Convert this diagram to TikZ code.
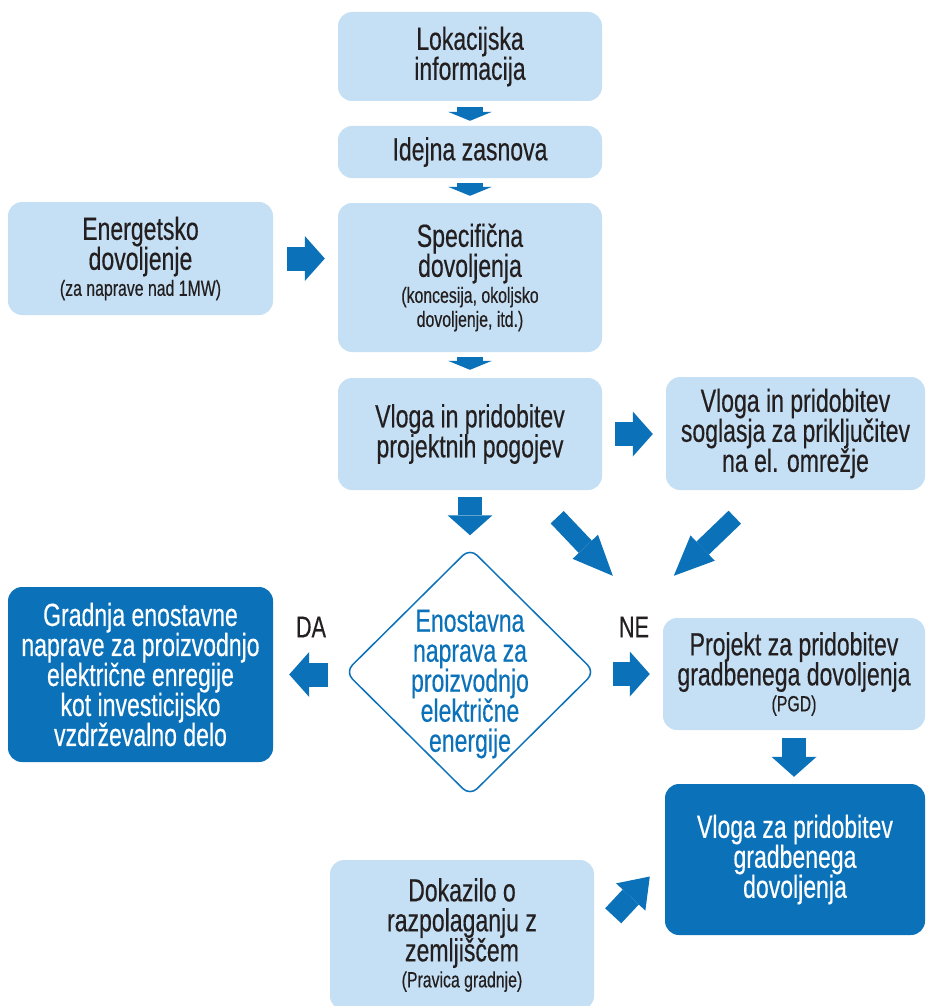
\documentclass[tikz,border=0pt]{standalone}
\usepackage{fontspec}
\setmainfont{Liberation Sans}[FakeStretch=0.72,FakeBold=0.4]
\usetikzlibrary{arrows.meta,shapes.geometric}
\definecolor{lblue}{HTML}{C5E0F4}
\definecolor{dblue}{HTML}{0B71B9}
\definecolor{tgray}{HTML}{231F20}
\newcommand{\sm}{\fontsize{22}{24}\selectfont}
\begin{document}
\begin{tikzpicture}[x=1pt,y=-1pt,
		box/.style={rectangle,rounded corners=14pt,fill=lblue,text=tgray,inner sep=0pt,minimum width=264pt,align=center,font=\fontsize{32}{30}\selectfont},
		darkbox/.style={box,fill=dblue,text=white},
		smallarr/.style={draw=dblue,line width=26pt,-{Triangle[width=44pt,length=9pt,line width=0pt]}},
		bigarr/.style={draw=dblue,line width=24pt,-{Triangle[width=45pt,length=20pt,line width=0pt]}},
		slantarr/.style={draw=dblue,line width=18pt,-{Triangle[width=35pt,length=40pt,line width=0pt]}},
		uparr/.style={draw=dblue,line width=22pt,-{Triangle[width=40pt,length=28pt,line width=0pt]}}]
		\useasboundingbox (0,0) rectangle (927,1006);
		\node[box,minimum height=89pt] (lok) at (470,56.5) {Lokacijska\\informacija};
		\node[box,minimum height=52pt] (ide) at (470,152) {Idejna zasnova};
		\node[box,minimum height=149pt] (spe) at (470,277.5) {Specifična\\dovoljenja\\[-4pt]{\sm (koncesija, okoljsko}\\[-6pt]{\sm dovoljenje, itd.)}};
		\node[box,minimum width=265pt,minimum height=113pt] (ene) at (140.5,258.5) {Energetsko\\dovoljenje\\[-4pt]{\sm (za naprave nad 1MW)}};
		\node[box,minimum height=112pt] (pp) at (470,434) {Vloga in pridobitev\\projektnih pogojev};
		\node[box,minimum width=259pt,minimum height=113pt] (sog) at (795.5,433.5) {Vloga in pridobitev\\soglasja za priključitev\\na el. omrežje};
		\node[diamond,draw=dblue,line width=1.5pt,rounded corners=10pt,inner sep=0pt,minimum width=250pt,minimum height=248pt] (dia) at (470,672) {};
		\node[align=center,text=dblue,font=\fontsize{32}{30}\selectfont] (diatxt) at ([yshift=-12pt]dia.center) {Enostavna\\naprava za\\proizvodnjo\\električne\\energije};
		\node[darkbox,minimum width=265pt,minimum height=175pt] (gra) at (140.5,674.5) {Gradnja enostavne\\naprave za proizvodnjo\\električne enregije\\kot investicijsko\\vzdrževalno delo};
		\node[box,minimum width=262pt,minimum height=112pt] (pgd) at (794,674) {Projekt za pridobitev\\gradbenega dovoljenja\\[-4pt]{\sm (PGD)}};
		\node[darkbox,minimum width=260pt,minimum height=151pt] (gd) at (795,859.5) {Vloga za pridobitev\\gradbenega\\dovoljenja};
		\node[box,minimum height=150pt] (dok) at (462,935) {Dokazilo o\\razpolaganju z\\zemljiščem\\[-4pt]{\sm (Pravica gradnje)}};
		\node[text=tgray,font=\fontsize{30}{30}\selectfont] (da) at (311,627) {DA};
		\node[text=tgray,font=\fontsize{30}{30}\selectfont] (ne) at (634,627) {NE};
		\draw[smallarr,shorten <=6pt,shorten >=5pt] (lok.south) -- (ide.north);
		\draw[smallarr,shorten <=5pt,shorten >=7pt] (ide.south) -- (spe.north);
		\draw[smallarr,shorten <=5pt,shorten >=8pt] (spe.south) -- (pp.north);
		\draw[bigarr,shorten <=14pt,shorten >=13pt] (ene.east) -- (ene.east -| spe.west);
		\draw[bigarr,shorten <=13pt,shorten >=13pt] (pp.east) -- (pp.east -| sog.west);
		\draw[bigarr,shorten <=7pt,shorten >=12pt] (pp.south) -- (dia.north);
		\draw[slantarr] ([xshift=-45pt,yshift=-27pt]pp.south east) -- ([xshift=-50pt,yshift=42pt]pgd.north west);
		\draw[slantarr] ([xshift=69pt,yshift=-27pt]sog.south west) -- ([xshift=11pt,yshift=42pt]pgd.north west);
		\draw[bigarr,shorten <=16pt,shorten >=16pt] (gra.east -| dia.west) -- (gra.east);
		\draw[bigarr,shorten <=17pt,shorten >=13pt] (pgd.west -| dia.east) -- (pgd.west);
		\draw[bigarr,shorten <=8pt,shorten >=7pt] (pgd.south) -- (pgd.south |- gd.north);
		\draw[uparr] ([xshift=19pt,yshift=-56pt]dok.north east) -- ([xshift=-15pt,yshift=-17pt]gd.west);
	\end{tikzpicture}
\end{document}
